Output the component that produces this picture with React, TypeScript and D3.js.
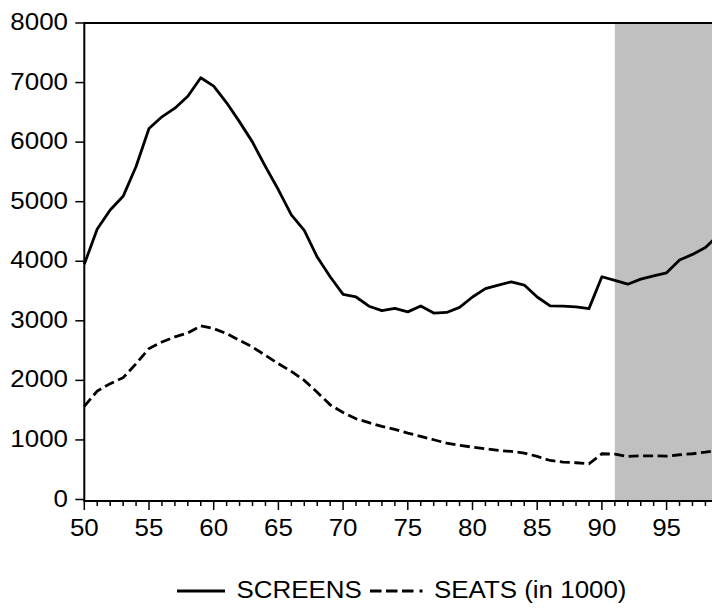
import * as d3 from "d3";

// years 1950..1999 (last one runs past the right edge)
const years = d3.range(50, 100);

const screens = [
  3950, 4540, 4860, 5090, 5590, 6230, 6425, 6570, 6770, 7080,
  6940, 6660, 6340, 6000, 5590, 5200, 4780, 4520, 4070, 3740,
  3445, 3400, 3245, 3170, 3210, 3150, 3250, 3130, 3140, 3225,
  3400, 3540, 3600, 3655, 3600, 3400, 3250, 3245, 3235, 3205,
  3740, 3680, 3615, 3700, 3755, 3805, 4020, 4115, 4230, 4440,
];

const seats = [
  1565, 1820, 1945, 2045, 2280, 2535, 2645, 2730, 2795, 2915,
  2870, 2785, 2672, 2560, 2420, 2280, 2150, 2000, 1800, 1590,
  1460, 1356, 1290, 1227, 1176, 1115, 1060, 1003, 946, 908,
  880, 852, 824, 807, 779, 723, 655, 627, 617, 600,
  768, 761, 723, 734, 734, 728, 751, 768, 795, 830,
];

const yTicks = [0, 1000, 2000, 3000, 4000, 5000, 6000, 7000, 8000];
const xLabelTicks = [50, 55, 60, 65, 70, 75, 80, 85, 90, 95];
const shadeStart = 91;

const W = 712;
const H = 609;
const left = 84.3;
const top = 23;
const bottom = 499.5;
const font = "'Liberation Sans', Arial, sans-serif";

// text in the original is a bit wider than it is tall
const Label = ({ x, y, anchor, children }: { x: number; y: number; anchor?: string; children: any }) => (
  <text
    transform={`translate(${x},${y}) scale(1.08,1)`}
    textAnchor={anchor ?? "start"}
    fontFamily={font}
    fontSize={24}
    fill="#000"
  >
    {children}
  </text>
);

export default function App() {
  const x = d3.scaleLinear().domain([50, 99]).range([left, left + 49 * 12.94]);
  const y = d3.scaleLinear().domain([0, 8000]).range([bottom, top]);

  const line = d3
    .line<number>()
    .x((_, i) => x(years[i]))
    .y((d) => y(d));

  const axisY = 501;

  return (
    <svg
      width={W}
      height={H}
      style={{ position: "absolute", left: 0, top: 0, background: "#fff" }}
    >
      {/* forecast shading */}
      <rect x={x(shadeStart)} y={top} width={W - x(shadeStart)} height={axisY - top} fill="#c0c0c0" />

      <path d={line(screens) ?? ""} fill="none" stroke="#000" strokeWidth={2.8} strokeLinejoin="round" />
      <path
        d={line(seats) ?? ""}
        fill="none"
        stroke="#000"
        strokeWidth={2.8}
        strokeDasharray="10,4.5"
      />

      {/* frame */}
      <line x1={left} x2={W} y1={top} y2={top} stroke="#000" strokeWidth={2} />
      <line x1={left} x2={left} y1={top - 1} y2={axisY} stroke="#000" strokeWidth={2} />
      <line x1={left - 1} x2={W} y1={axisY} y2={axisY} stroke="#000" strokeWidth={2} />

      {/* y axis */}
      {yTicks.map((t) => (
        <g key={t}>
          <line x1={left - 9} x2={left} y1={y(t)} y2={y(t)} stroke="#000" strokeWidth={1.5} />
          <Label x={68} y={y(t) + 7} anchor="end">
            {t}
          </Label>
        </g>
      ))}

      {/* x axis */}
      {years.map((yr) => (
        <line
          key={yr}
          x1={x(yr)}
          x2={x(yr)}
          y1={axisY}
          y2={axisY + (yr % 5 === 0 ? 9 : 5)}
          stroke="#000"
          strokeWidth={1.5}
        />
      ))}
      {xLabelTicks.map((t) => (
        <Label key={t} x={x(t)} y={536} anchor="middle">
          {t}
        </Label>
      ))}

      {/* legend */}
      <line x1={177} x2={225} y1={591} y2={591} stroke="#000" strokeWidth={2.8} />
      <Label x={236.5} y={598}>SCREENS</Label>
      <line
        x1={370}
        x2={424}
        y1={591}
        y2={591}
        stroke="#000"
        strokeWidth={2.8}
        strokeDasharray="11.5,4.5,11.5,4.5,11.5,6,3,20"
      />
      <Label x={434} y={598}>SEATS (in 1000)</Label>
    </svg>
  );
}
